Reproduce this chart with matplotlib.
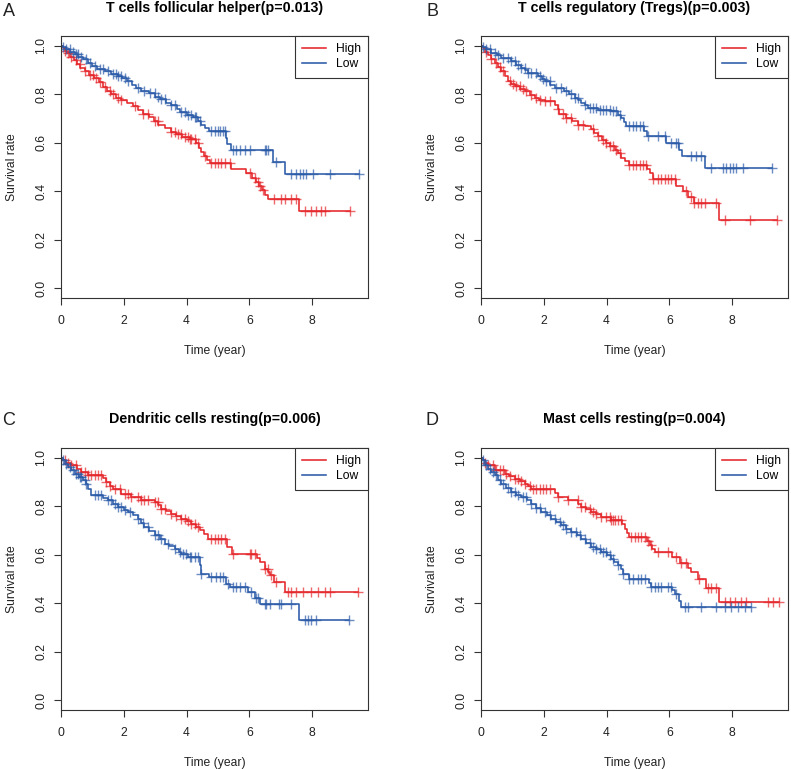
import numpy as np
import matplotlib
matplotlib.use("Agg")
import matplotlib.pyplot as plt

plt.rcParams['font.family'] = ['Liberation Sans', 'DejaVu Sans']

RED = '#E5262B'
BLUE = '#2B5BA8'
AXC = '#333333'

titles = ["T cells follicular helper(p=0.013)",
          "T cells regulatory (Tregs)(p=0.003)",
          "Dendritic cells resting(p=0.006)",
          "Mast cells resting(p=0.004)"]
letters = ["A", "B", "C", "D"]
groups = ["High", "Low"]

# ---- Panel A: T cells follicular helper ----
a_high_t = [0.05, 0.12, 0.2, 0.3, 0.4, 0.5, 0.6, 0.75, 0.9, 1.05, 1.2, 1.35, 1.45, 1.6, 1.75,
            1.9, 2.1, 2.3, 2.45, 2.6, 2.8, 2.95, 3.1, 3.3, 3.5, 3.65, 3.85, 4.1, 4.3, 4.4,
            4.45, 4.55, 4.65, 4.75, 5.4, 5.9, 6.1, 6.2, 6.3, 6.4, 6.5, 6.6, 7.58]
a_high_s = [0.99, 0.98, 0.97, 0.955, 0.94, 0.925, 0.91, 0.895, 0.88, 0.865, 0.85, 0.83, 0.815, 0.8, 0.785,
            0.775, 0.765, 0.75, 0.735, 0.72, 0.705, 0.69, 0.675, 0.66, 0.645, 0.635, 0.625, 0.615, 0.6, 0.58,
            0.56, 0.545, 0.53, 0.515, 0.49, 0.475, 0.455, 0.44, 0.42, 0.405, 0.385, 0.37, 0.318]
a_high_end = 9.22
a_high_cens = [0.12, 0.22, 0.33, 0.49, 0.59, 0.75, 0.91, 1.02, 1.13, 1.23, 1.39, 1.55, 1.66, 1.82, 1.92,
               2.35, 2.61, 2.77, 2.98, 3.09, 3.51, 3.62, 3.73, 3.83, 3.94, 4.04, 4.1, 4.15, 4.26, 4.36,
               4.58, 4.79, 4.89, 5.0, 5.11, 5.21, 5.37, 6.01, 6.17, 6.27, 6.33, 6.43, 6.8, 7.0, 7.12,
               7.34, 7.49, 7.76, 7.97, 8.13, 8.29, 8.4, 9.22]
a_low_t = [0.05, 0.15, 0.3, 0.45, 0.55, 0.7, 0.85, 1.0, 1.15, 1.4, 1.6, 1.8, 1.95, 2.1, 2.25,
           2.4, 2.55, 2.8, 3.0, 3.15, 3.35, 3.5, 3.7, 3.8, 4.0, 4.2, 4.35, 4.45, 4.6, 4.7,
           5.25, 5.3, 5.42, 6.75, 7.13]
a_low_s = [0.995, 0.985, 0.975, 0.965, 0.955, 0.945, 0.93, 0.915, 0.905, 0.895, 0.885, 0.875, 0.865, 0.855, 0.84,
           0.825, 0.815, 0.805, 0.79, 0.78, 0.765, 0.755, 0.74, 0.725, 0.715, 0.705, 0.69, 0.675, 0.66, 0.648,
           0.62, 0.595, 0.57, 0.522, 0.472]
a_low_end = 9.48
a_low_cens = [0.06, 0.17, 0.28, 0.38, 0.49, 0.54, 0.65, 0.81, 0.91, 1.07, 1.23, 1.34, 1.5, 1.66, 1.76,
              1.82, 1.92, 2.03, 2.13, 2.45, 2.66, 2.82, 2.98, 3.09, 3.2, 3.3, 3.51, 3.62, 3.83, 3.94,
              4.04, 4.15, 4.26, 4.31, 4.42, 4.79, 4.89, 5.0, 5.08, 5.16, 5.21, 5.48, 5.58, 5.69,
              5.85, 6.01, 6.49, 6.54, 6.61, 6.86, 7.34, 7.49, 7.6, 7.71, 7.81, 8.03, 8.56, 9.48]

# ---- Panel B: T cells regulatory (Tregs) ----
b_high_t = [0.05, 0.12, 0.22, 0.32, 0.44, 0.55, 0.65, 0.75, 0.86, 0.95, 1.07, 1.25, 1.39, 1.55, 1.71,
            1.85, 2.03, 2.35, 2.45, 2.5, 2.72, 2.9, 3.09, 3.3, 3.51, 3.6, 3.73, 3.85, 3.99, 4.1,
            4.26, 4.35, 4.47, 4.6, 4.73, 5.3, 5.37, 5.48, 6.2, 6.45, 6.6, 6.8, 7.57]
b_high_s = [0.99, 0.975, 0.963, 0.945, 0.929, 0.912, 0.895, 0.875, 0.853, 0.843, 0.833, 0.822, 0.812, 0.798, 0.785,
            0.778, 0.771, 0.757, 0.74, 0.72, 0.7, 0.688, 0.675, 0.668, 0.655, 0.64, 0.627, 0.613, 0.6, 0.588,
            0.572, 0.556, 0.538, 0.524, 0.51, 0.493, 0.476, 0.449, 0.42, 0.4, 0.376, 0.353, 0.28]
b_high_end = 9.44
b_high_cens = [0.17, 0.33, 0.49, 0.59, 0.7, 0.91, 1.02, 1.13, 1.23, 1.34, 1.44, 1.6, 1.76, 1.87, 2.03,
               2.19, 2.45, 2.61, 2.72, 2.88, 3.09, 3.25, 3.57, 3.73, 3.89, 3.99, 4.1, 4.2, 4.31, 4.42,
               4.73, 4.84, 4.95, 5.05, 5.16, 5.27, 5.48, 5.64, 5.74, 5.85, 5.96, 6.06, 6.17, 6.54,
               6.7, 6.8, 6.91, 7.02, 7.12, 7.49, 7.76, 8.56, 9.44]
b_low_t = [0.05, 0.15, 0.33, 0.5, 0.65, 0.97, 1.1, 1.28, 1.4, 1.5, 1.82, 1.95, 2.03, 2.2, 2.35,
           2.66, 2.8, 2.98, 3.1, 3.19, 3.3, 3.41, 3.73, 4.15, 4.35, 4.47, 4.55, 4.63, 5.2, 5.3,
           5.9, 6.3, 6.4, 7.13]
b_low_s = [0.995, 0.985, 0.97, 0.96, 0.95, 0.936, 0.922, 0.908, 0.898, 0.888, 0.874, 0.863, 0.853, 0.84, 0.826,
           0.812, 0.8, 0.785, 0.775, 0.764, 0.755, 0.744, 0.737, 0.73, 0.715, 0.703, 0.685, 0.668, 0.648, 0.627,
           0.6, 0.572, 0.545, 0.494]
b_low_end = 9.26
b_low_cens = [0.06, 0.17, 0.28, 0.44, 0.54, 0.7, 0.86, 0.97, 1.07, 1.18, 1.28, 1.39, 1.5, 1.6, 1.76,
              1.87, 1.97, 2.08, 2.19, 2.4, 2.56, 2.72, 2.88, 2.98, 3.09, 3.3, 3.46, 3.57, 3.67, 3.78,
              3.89, 3.99, 4.1, 4.2, 4.31, 4.42, 4.73, 4.84, 4.95, 5.05, 5.16, 5.32, 5.64, 5.85, 6.06,
              6.22, 6.27, 6.7, 6.86, 7.02, 7.34, 7.71, 7.81, 7.92, 8.03, 8.13, 8.34, 9.26]

# ---- Panel C: Dendritic cells resting ----
c_high_t = [0.05, 0.15, 0.33, 0.5, 0.65, 0.86, 1.35, 1.44, 1.55, 1.66, 1.92, 2.24, 2.56, 2.98, 3.1,
            3.19, 3.35, 3.51, 3.65, 3.83, 4.0, 4.15, 4.3, 4.42, 4.55, 4.68, 5.3, 5.45, 6.25, 6.33,
            6.49, 6.6, 6.65, 6.8, 7.13]
c_high_s = [0.99, 0.98, 0.968, 0.955, 0.941, 0.927, 0.915, 0.9, 0.885, 0.872, 0.852, 0.838, 0.824, 0.817, 0.803,
            0.79, 0.78, 0.769, 0.759, 0.749, 0.738, 0.728, 0.715, 0.701, 0.684, 0.666, 0.632, 0.602, 0.585, 0.57,
            0.543, 0.53, 0.516, 0.488, 0.447]
c_high_end = 9.46
c_high_cens = [0.12, 0.22, 0.33, 0.49, 0.65, 0.75, 0.86, 0.97, 1.07, 1.18, 1.28, 1.44, 1.55, 1.71, 1.87,
               2.03, 2.13, 2.24, 2.45, 2.56, 2.66, 2.77, 2.98, 3.09, 3.2, 3.3, 3.51, 3.67, 3.83, 3.94,
               4.04, 4.15, 4.26, 4.36, 4.79, 4.89, 5.0, 5.11, 5.21, 5.48, 6.01, 6.06, 6.17, 6.49,
               6.59, 6.7, 6.86, 7.23, 7.34, 7.49, 7.71, 7.97, 8.18, 8.4, 8.56, 9.46]
c_low_t = [0.05, 0.12, 0.22, 0.33, 0.44, 0.57, 0.7, 0.8, 0.86, 0.97, 1.35, 1.5, 1.65, 1.82, 2.0,
           2.13, 2.3, 2.45, 2.55, 2.66, 2.8, 2.98, 3.15, 3.3, 3.45, 3.62, 3.75, 3.83, 4.04, 4.42,
           4.47, 4.73, 5.27, 5.37, 5.96, 6.17, 6.33, 7.58]
c_low_s = [0.99, 0.975, 0.961, 0.948, 0.934, 0.92, 0.907, 0.89, 0.872, 0.845, 0.835, 0.824, 0.81, 0.797, 0.786,
           0.776, 0.762, 0.749, 0.73, 0.714, 0.697, 0.68, 0.663, 0.646, 0.636, 0.625, 0.613, 0.605, 0.591, 0.557,
           0.522, 0.509, 0.481, 0.468, 0.447, 0.42, 0.396, 0.33]
c_low_end = 9.19
c_low_cens = [0.06, 0.17, 0.28, 0.38, 0.49, 0.54, 0.59, 0.65, 0.75, 0.81, 1.07, 1.18, 1.28, 1.5, 1.6,
              1.71, 1.82, 1.92, 2.03, 2.19, 2.45, 2.61, 2.77, 2.98, 3.09, 3.2, 3.41, 3.62, 3.78, 3.89,
              3.99, 4.1, 4.15, 4.26, 4.36, 4.47, 4.79, 4.95, 5.05, 5.16, 5.32, 5.48, 5.58, 5.69, 5.85,
              6.06, 6.22, 6.27, 6.49, 6.54, 6.65, 6.96, 7.02, 7.34, 7.76, 7.86, 7.97, 8.13, 9.19]

# ---- Panel D: Mast cells resting ----
d_high_t = [0.05, 0.12, 0.22, 0.44, 0.75, 0.9, 1.07, 1.25, 1.39, 1.5, 1.6, 2.35, 2.45, 2.77, 3.1,
            3.19, 3.35, 3.51, 3.65, 3.83, 4.15, 4.5, 4.58, 4.65, 4.73, 5.3, 5.37, 5.45, 5.53, 6.1,
            6.33, 6.6, 6.7, 6.91, 7.18, 7.58]
d_high_s = [0.99, 0.98, 0.968, 0.948, 0.934, 0.925, 0.913, 0.903, 0.893, 0.882, 0.872, 0.855, 0.838, 0.824, 0.81,
            0.797, 0.787, 0.776, 0.766, 0.756, 0.742, 0.725, 0.708, 0.69, 0.673, 0.656, 0.639, 0.625, 0.612, 0.591,
            0.564, 0.547, 0.529, 0.502, 0.461, 0.406]
d_high_end = 9.5
d_high_cens = [0.12, 0.22, 0.38, 0.49, 0.59, 0.7, 0.81, 0.91, 1.07, 1.18, 1.28, 1.39, 1.55, 1.66, 1.76,
               1.87, 1.97, 2.08, 2.19, 2.45, 2.77, 3.09, 3.2, 3.3, 3.46, 3.57, 3.67, 3.83, 3.99, 4.1,
               4.15, 4.2, 4.26, 4.36, 4.47, 4.79, 4.89, 5.0, 5.11, 5.21, 5.32, 5.42, 5.64, 5.96, 6.22,
               6.38, 6.54, 6.96, 7.23, 7.34, 7.49, 7.76, 7.92, 8.08, 8.29, 8.45, 9.14, 9.3, 9.5]
d_low_t = [0.05, 0.12, 0.22, 0.33, 0.44, 0.55, 0.65, 0.8, 0.97, 1.1, 1.28, 1.45, 1.6, 1.75, 1.92,
           2.1, 2.24, 2.4, 2.56, 2.7, 2.88, 3.05, 3.19, 3.35, 3.51, 3.65, 3.83, 4.0, 4.15, 4.25,
           4.36, 4.45, 4.52, 4.73, 5.35, 5.42, 6.1, 6.17, 6.3, 6.38]
d_low_s = [0.99, 0.97, 0.955, 0.94, 0.927, 0.91, 0.893, 0.876, 0.859, 0.848, 0.838, 0.824, 0.81, 0.793, 0.776,
           0.762, 0.749, 0.735, 0.721, 0.708, 0.694, 0.68, 0.666, 0.649, 0.632, 0.622, 0.612, 0.598, 0.584, 0.57,
           0.557, 0.54, 0.522, 0.502, 0.485, 0.468, 0.455, 0.44, 0.41, 0.385]
d_low_end = 8.6
d_low_cens = [0.06, 0.17, 0.28, 0.38, 0.49, 0.59, 0.7, 0.86, 0.97, 1.07, 1.18, 1.34, 1.44, 1.6, 1.76,
              1.87, 2.03, 2.19, 2.35, 2.51, 2.61, 2.72, 2.88, 3.04, 3.14, 3.3, 3.46, 3.57, 3.67, 3.78,
              3.89, 3.99, 4.1, 4.2, 4.36, 4.52, 4.73, 4.84, 5.0, 5.11, 5.21, 5.42, 5.53, 5.64, 5.74,
              5.96, 6.06, 6.22, 6.49, 6.59, 7.02, 7.49, 7.76, 7.97, 8.18, 8.4, 8.6]

panels = [
    (a_high_t, a_high_s, a_high_end, a_high_cens, a_low_t, a_low_s, a_low_end, a_low_cens),
    (b_high_t, b_high_s, b_high_end, b_high_cens, b_low_t, b_low_s, b_low_end, b_low_cens),
    (c_high_t, c_high_s, c_high_end, c_high_cens, c_low_t, c_low_s, c_low_end, c_low_cens),
    (d_high_t, d_high_s, d_high_end, d_high_cens, d_low_t, d_low_s, d_low_end, d_low_cens),
]


def km_line(ax, times, surv, end, cens, color, label):
    t = np.concatenate([[0.0], times, [end]])
    s = np.concatenate([[1.0], surv, [surv[-1]]])
    ax.step(t, s, where='post', color=color, lw=1.15, label=label)
    # censor marks sit on the curve at the current survival level
    idx = np.searchsorted(t, cens, side='right') - 1
    ax.plot(cens, s[idx], ls='none', marker='+', ms=6.5, mew=1.0,
            color=color, alpha=0.7)


W, H = 791, 769
fig = plt.figure(figsize=(W / 100, H / 100), dpi=100)

# axes boxes in pixels: (left, top, right, bottom)
boxes = [(61, 36, 368, 298), (481, 36, 788, 298),
         (61, 448, 368, 710), (481, 448, 788, 710)]
letter_pos = [(9, 12), (432, 12), (9, 420), (432, 420)]

for i, (box, data) in enumerate(zip(boxes, panels)):
    l, t, r, b = box
    ax = fig.add_axes([l / W, 1 - b / H, (r - l) / W, (b - t) / H])
    ht, hs, he, hc, lt, ls_, le, lc = data
    km_line(ax, ht, hs, he, hc, RED, groups[0])
    km_line(ax, lt, ls_, le, lc, BLUE, groups[1])

    ax.set_xlim(0, 9.78)
    ax.set_ylim(-0.04, 1.04)
    ax.set_xticks([0, 2, 4, 6, 8])
    ax.set_yticks([0.0, 0.2, 0.4, 0.6, 0.8, 1.0])
    ax.set_yticklabels(['0.0', '0.2', '0.4', '0.6', '0.8', '1.0'],
                       rotation=90, va='center')
    ax.tick_params(length=5, width=0.8, color=AXC, labelcolor='#222222',
                   labelsize=8.7)
    ax.tick_params(axis='x', pad=7)
    ax.tick_params(axis='y', pad=5)
    for sp in ax.spines.values():
        sp.set_color(AXC)
        sp.set_linewidth(0.8)
    ax.set_xlabel("Time (year)", fontsize=8.7, color='#222222', labelpad=13)
    ax.set_ylabel("Survival rate", fontsize=8.7, color='#222222', labelpad=12)

    ax.text(0.5, 1 + 28.5 / (b - t), titles[i], transform=ax.transAxes,
            ha='center', va='center', fontsize=10.3, fontweight='bold')
    lx, ly = letter_pos[i]
    fig.text(lx / W, 1 - ly / H, letters[i], ha='center', va='center',
             fontsize=13, color='#222222')

    leg = ax.legend(loc='upper right', borderaxespad=0, fancybox=False,
                    edgecolor=AXC, framealpha=1, fontsize=8.7,
                    handlelength=2.0, handletextpad=0.8, borderpad=0.6,
                    labelspacing=0.25)
    leg.get_frame().set_linewidth(0.8)

fig.savefig("out.png", dpi=100)
